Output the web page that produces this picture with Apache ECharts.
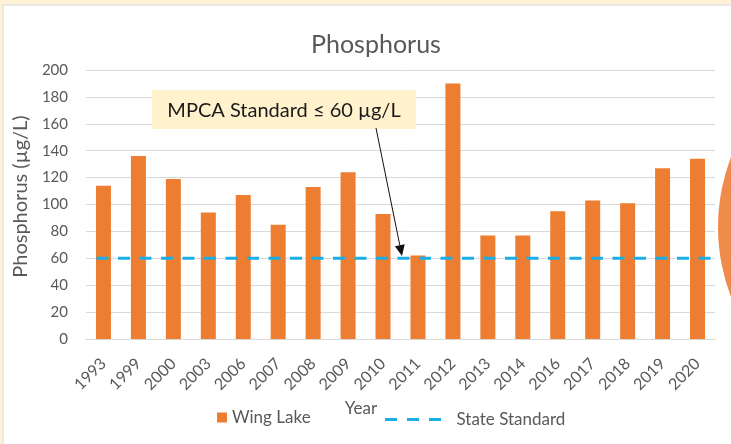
<!DOCTYPE html>
<html><head><meta charset="utf-8">
<script src="https://cdn.jsdelivr.net/npm/echarts@6/dist/echarts.min.js"></script>
<style>html,body{margin:0;padding:0;background:#FFF2D9;}#c{width:731px;height:444px;}</style>
</head><body><div id="c"></div>
<script>
const years = ['1993','1999','2000','2003','2006','2007','2008','2009','2010','2011','2012','2013','2014','2016','2017','2018','2019','2020'];
const wingLake = [114,136,119,94,107,85,113,124,93,62,190,77,77,95,103,101,127,134];
const standardX = [0.3, 18];
const standardY = [60, 60];
const yTicks = [0,20,40,60,80,100,120,140,160,180,200];

const chart = echarts.init(document.getElementById('c'), null, {renderer:'canvas'});
const lab = '#595959';
const font = 'Lato';
const blue = '#1AAEE8';

// arrow geometry for annotation
const ax0 = 376, ay0 = 128, ax1 = 402, ay1 = 256;
const ang = Math.atan2(ay1-ay0, ax1-ax0);
const hl = 11, hw = 5;
const bx = ax1 - hl*Math.cos(ang), by = ay1 - hl*Math.sin(ang);
const head = [[ax1,ay1],[bx + hw*Math.sin(ang), by - hw*Math.cos(ang)],[bx - hw*Math.sin(ang), by + hw*Math.cos(ang)]];

chart.setOption({
  backgroundColor: 'transparent',
  animation: false,
  title: {
    text: 'Phosphorus', left: 371, top: 27, textAlign: 'center',
    textStyle: {fontFamily: font, fontSize: 25, fontWeight: 'normal', color: '#595959'}
  },
  grid: {left: 86, right: 16, top: 70, bottom: 105, containLabel: false},
  legend: [
    {data: ['Wing Lake'], left: 212, top: 404, icon: 'rect', itemWidth: 10, itemHeight: 10, itemGap: 5,
     textStyle: {fontFamily: font, fontSize: 17, color: lab}},
    {data: ['State Standard'], left: 380, top: 406, itemWidth: 57, itemHeight: 3,
     icon: 'path://M0,0h12v3h-12zM22,0h12v3h-12zM44,0h12v3h-12z',
     itemStyle: {color: blue},
     textStyle: {fontFamily: font, fontSize: 17, color: lab, padding: [0,0,0,10]}}
  ],
  xAxis: [
    {type: 'category', data: years,
     axisLine: {lineStyle: {color: '#D9D9D9', width: 1}},
     axisTick: {show: false},
     axisLabel: {rotate: 45, fontFamily: font, fontSize: 16, color: lab, margin: 22, interval: 0},
     name: 'Year', nameLocation: 'middle', nameGap: 55,
     nameTextStyle: {fontFamily: font, fontSize: 17, color: lab, padding: [0, 79, 0, 0]}},
    {type: 'value', min: 0, max: 18, show: false}
  ],
  yAxis: {
    type: 'value', min: 0, max: 200, interval: 20,
    axisLine: {show: false}, axisTick: {show: false},
    splitLine: {lineStyle: {color: '#D9D9D9', width: 1}},
    axisLabel: {fontFamily: font, fontSize: 15, color: lab, margin: 18,
      formatter: v => yTicks.includes(v) ? String(v) : ''},
    name: 'Phosphorus (µg/L)', nameLocation: 'middle', nameGap: 50,
    nameTextStyle: {fontFamily: font, fontSize: 20, color: lab, padding: [0, 0, 0, 16]}
  },
  series: [
    {name: 'Wing Lake', type: 'bar', data: wingLake, barWidth: 15, xAxisIndex: 0,
     itemStyle: {color: '#ED7D31'}},
    {name: 'State Standard', type: 'line', xAxisIndex: 1, symbol: 'none',
     data: standardX.map((x,i) => [x, standardY[i]]),
     lineStyle: {color: blue, width: 3, type: [12, 9.5]}, z: 5}
  ],
  graphic: [
    {type: 'rect', z: -10, silent: true, shape: {x: 3, y: 5, width: 740, height: 450},
     style: {fill: '#FFFFFF', stroke: '#D9D9D9', lineWidth: 1}},
    {type: 'circle', z: 10, shape: {cx: 913, cy: 227, r: 195}, style: {fill: '#F08B4C'}},
    {type: 'rect', z: 20, shape: {x: 152, y: 90, width: 264, height: 39}, style: {fill: '#FFF2CC'}},
    {type: 'text', z: 21, x: 284, y: 111, style: {text: 'MPCA Standard ≤ 60 µg/L', fontFamily: font,
      fontSize: 20, fill: '#1a1a1a', align: 'center', verticalAlign: 'middle'}},
    {type: 'line', z: 21, shape: {x1: ax0, y1: ay0, x2: bx, y2: by}, style: {stroke: '#111', lineWidth: 1}},
    {type: 'polygon', z: 21, shape: {points: head}, style: {fill: '#111'}}
  ]
});
</script></body></html>
